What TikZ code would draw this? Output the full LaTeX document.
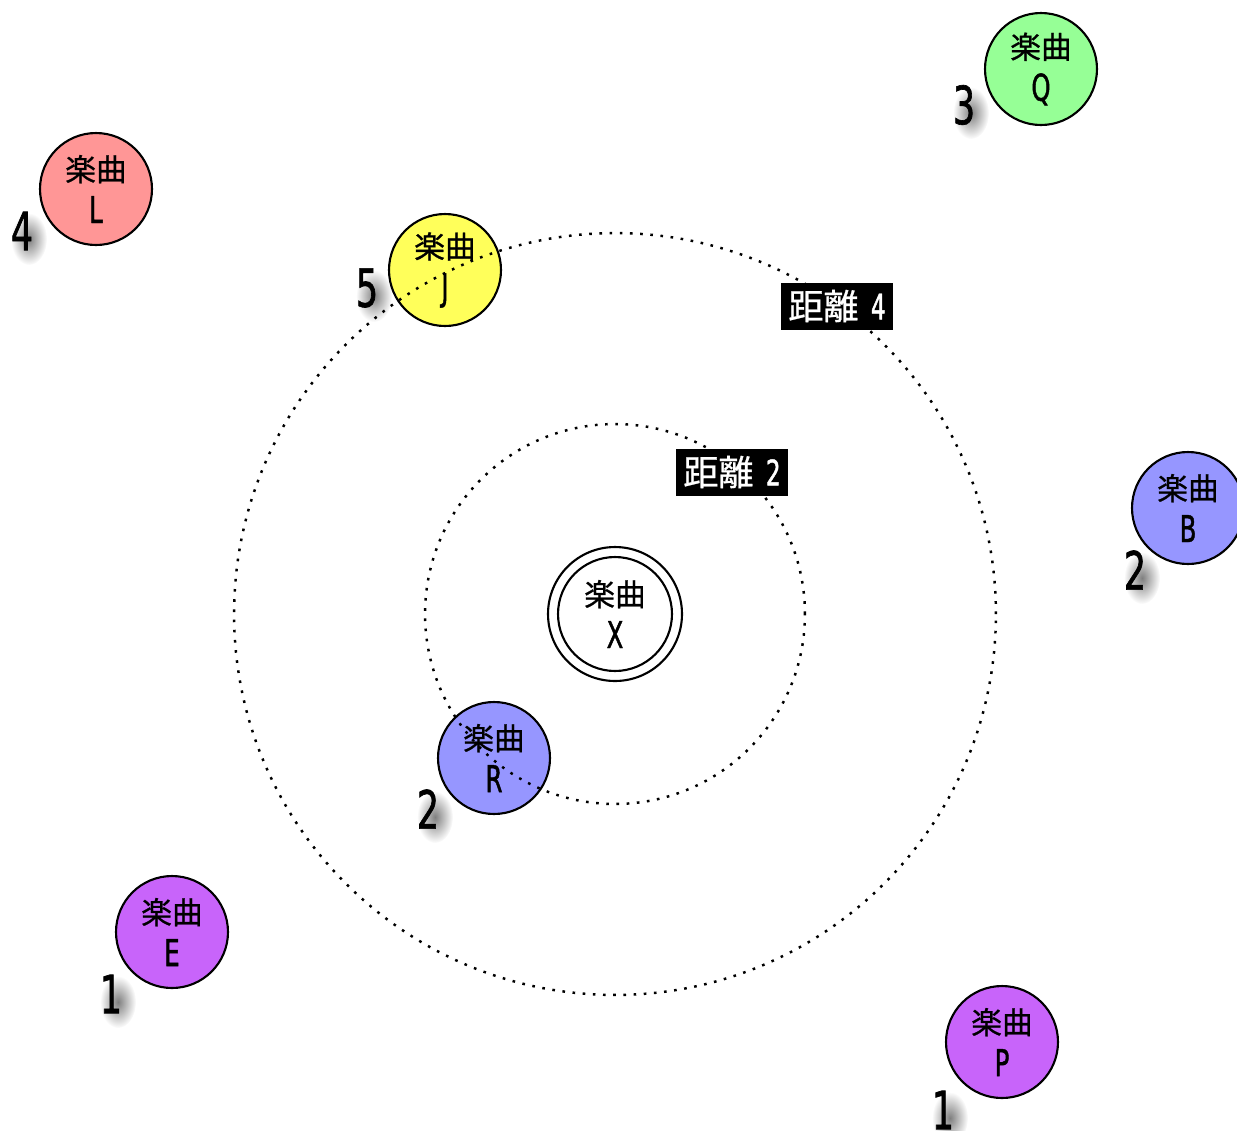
\documentclass[tikz,border=0pt]{standalone}
\usepackage{fontspec}
\usetikzlibrary{calc,fadings}
\newfontfamily\jp[FakeBold=0.8]{Noto Sans CJK JP}
\newfontfamily\narrowsans[FakeStretch=0.66,FakeBold=1.2]{DejaVu Sans}
\definecolor{songred}{RGB}{255,150,150}
\definecolor{songgreen}{RGB}{150,255,150}
\definecolor{songyellow}{RGB}{255,255,90}
\definecolor{songblue}{RGB}{150,150,255}
\definecolor{songpurple}{RGB}{200,100,250}
\tikzfading[name=softblob, inner color=transparent!0, outer color=transparent!100]
\tikzset{
  song/.style={circle, draw=black, line width=1.2pt, minimum size=2.24cm,
    inner sep=0pt, align=center, font=\jp\fontsize{17.5}{21}\selectfont},
  ring/.style={line width=1.4pt, dash pattern=on 1.5pt off 4.3pt},
  distlabel/.style={fill=black, text=white, inner sep=0pt, minimum width=2.24cm,
    minimum height=0.94cm, font=\jp\fontsize{20}{22}\selectfont},
  score/.style={font=\narrowsans\fontsize{30}{30}\selectfont, inner sep=0pt},
  softshadow/.style={fill=black, opacity=0.5, path fading=softblob}
}
% score number with a soft drop shadow
\newcommand\scorenum[3]{%
  \fill[softshadow] ($(#2)+(7,8)$) ellipse[x radius=0.36cm, y radius=0.52cm];
  \node[score] (#1) at (#2) {#3};
}
\newcommand\songtext[1]{楽曲\\[3pt]{\narrowsans\fontsize{21}{21}\selectfont #1}}
\begin{document}
\begin{tikzpicture}[x=0.02cm, y=-0.02cm]
\useasboundingbox (0,0) rectangle (1237,1130);
\fill[white] (0,0) rectangle (1237,1130);

% centre song
\node[circle, draw, line width=1.2pt, minimum size=2.68cm] (Xo) at (615,614) {};
\node[song, minimum size=2.28cm] (X) at (615,614) {\songtext{X}};

% surrounding songs
\node[song, fill=songred] (L) at (96,189) {\songtext{L}};
\node[song, fill=songgreen] (Q) at (1041,69) {\songtext{Q}};
\node[song, fill=songyellow] (J) at (445,270) {\songtext{J}};
\node[song, fill=songblue] (B) at (1188,508) {\songtext{B}};
\node[song, fill=songblue] (R) at (494,758) {\songtext{R}};
\node[song, fill=songpurple] (E) at (172,932) {\songtext{E}};
\node[song, fill=songpurple] (P) at (1002,1042) {\songtext{P}};

% distance rings around X
\draw[ring] (X.center) circle[radius=3.8cm];
\draw[ring] (X.center) circle[radius=7.62cm];

\node[distlabel] (d4) at (837,306) {距離\hspace{0.35em}{\narrowsans 4}};
\node[distlabel] (d2) at (732,472) {距離\hspace{0.35em}{\narrowsans 2}};

% scores
\scorenum{sL}{22,231}{4}
\scorenum{sQ}{964,105}{3}
\scorenum{sJ}{367,288}{5}
\scorenum{sB}{1135,570}{2}
\scorenum{sR}{428,809}{2}
\scorenum{sE}{111,994}{1}
\scorenum{sP}{943,1110}{1}
\end{tikzpicture}
\end{document}
